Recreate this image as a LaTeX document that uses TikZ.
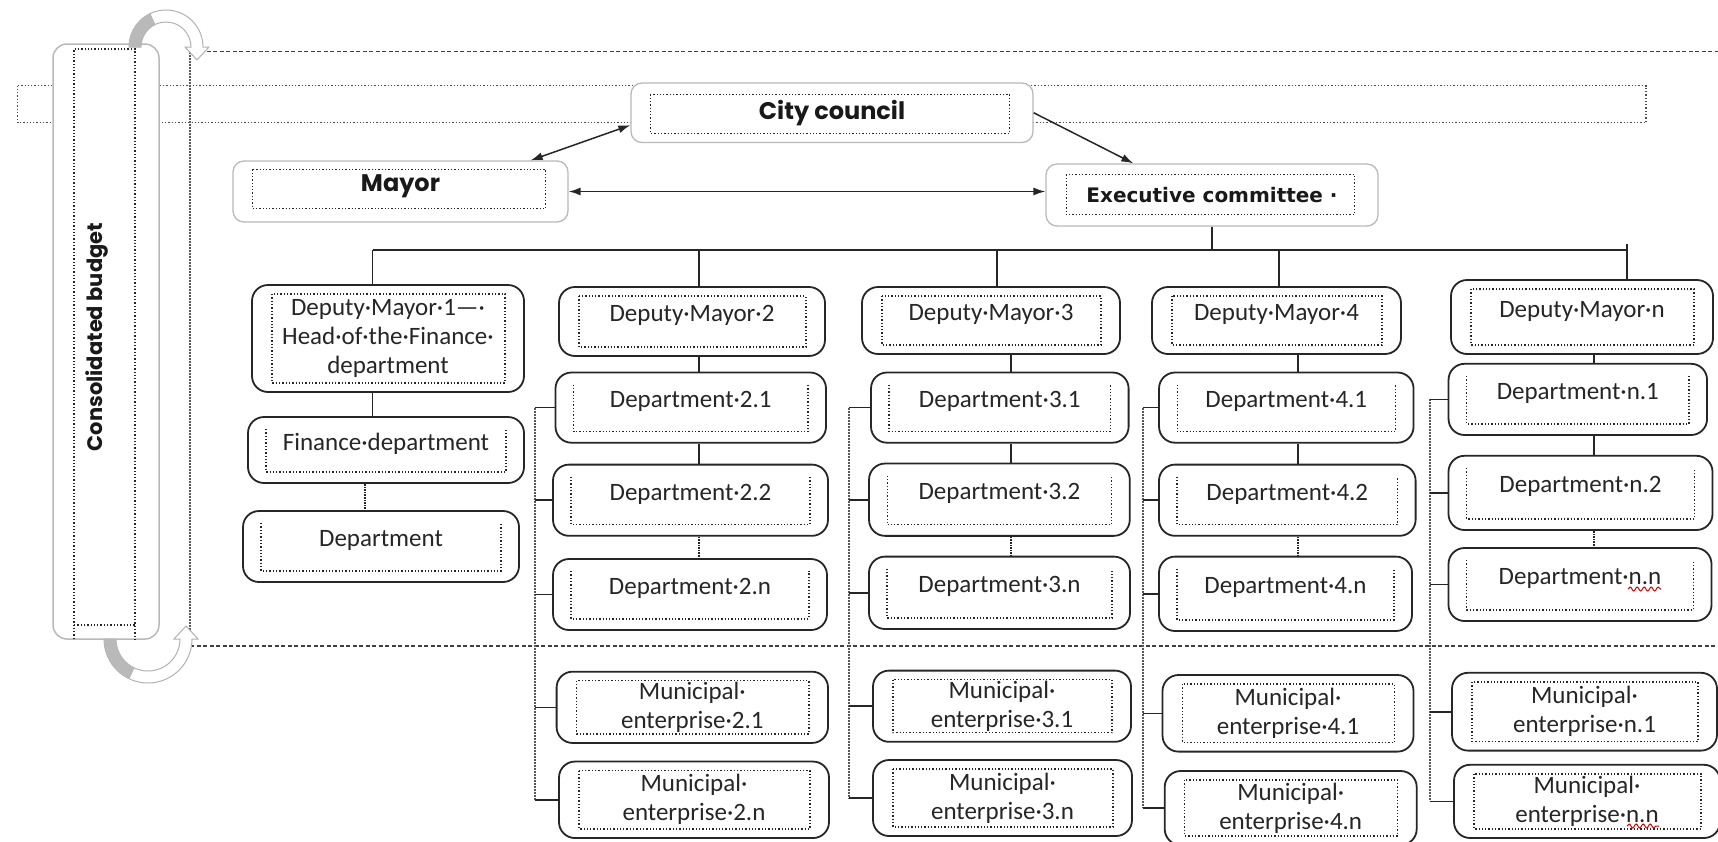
\documentclass[tikz,border=0pt]{standalone}
\usepackage{fontspec}
\setmainfont{Carlito}
\newfontfamily\gothic{Poppins}
\newfontfamily\dvs{DejaVu Sans}
\usetikzlibrary{arrows.meta,calc,decorations.pathmorphing}
\tikzset{
  topbox/.style={draw=gray!55,line width=1.3pt,rounded corners=11pt,fill=white,inner sep=0pt,text=black!90},
  orgbox/.style={draw=black!85,line width=1.8pt,rounded corners=16pt,fill=white,inner sep=0pt,align=center,
     font=\fontsize{25}{29}\selectfont,text=black!85},
  up/.style={text height=17pt,text depth=17pt},
  innerln/.style={draw=black!85,line width=1.3pt,dotted},
  conn/.style={draw=black!85,line width=1.6pt},
  dconn/.style={draw=black!85,line width=1.6pt,densely dotted},
  spine/.style={draw=black!65,line width=2pt,densely dotted},
  frame/.style={draw=black!75,line width=1.3pt,dash pattern=on 4pt off 2.5pt},
  arr/.style={draw=black!85,line width=1.5pt,-{Latex[length=12pt,width=8pt]}},
  darr/.style={draw=black!85,line width=1.5pt,{Latex[length=12pt,width=8pt]}-{Latex[length=12pt,width=8pt]}},
  squig/.style={draw=red!85!black,line width=1pt,decorate,decoration={snake,amplitude=2pt,segment length=7pt}},
}
\newcommand\ob[7][]{\node[orgbox,#1,minimum width=#5pt,minimum height=#6pt] (#2) at (#3,#4) {#7};}
\newcommand\inrect[1]{\draw[innerln] ($(#1.north west)+(21,10)$) rectangle ($(#1.south east)+(-20,-10)$);}
\newcommand\inU[1]{\draw[innerln] ($(#1.north west)+(19,13)$) |- ($(#1.south east)+(-19,-12)$) -- ($(#1.north east)+(-19,13)$);}
\begin{document}
\begin{tikzpicture}[x=1pt,y=-1pt]
\useasboundingbox (0,0) rectangle (1718,841);
% dotted band
\draw[draw=black!70,line width=1.3pt,dotted] (17.5,85.5) rectangle (1646,122.7);
% dashed frame
\draw[frame] (1725,51.5) -- (190,51.5);
\draw[spine,line width=1.6pt] (190,51.5) -- (190,646);
\draw[frame] (190,646) -- (1725,646);
% consolidated budget bar
\node[draw=gray!55,line width=1.5pt,rounded corners=14pt,fill=white,minimum width=106pt,minimum height=595pt,inner sep=0pt] (bar) at (106,341.5) {};
\draw[innerln] (74,639) -- (74,49) -- (135,49) -- (135,639) (74,625) -- (135,625);
\node[rotate=90,font=\gothic\bfseries\fontsize{21}{24}\selectfont,text=black!90] (cb) at (97,337) {Consolidated budget};
% curved arrows
\fill[white,draw=gray!60,line width=1pt] (129,47) arc[start angle=180,end angle=360,radius=37] -- (209,47) -- (197,60) -- (185,47) -- (191,47) arc[start angle=360,end angle=180,radius=25] -- cycle;
\fill[gray!55] (129,47) arc[start angle=180,end angle=245,radius=37] -- ($(166,47)+(245:25)$) arc[start angle=245,end angle=180,radius=25] -- cycle;
\fill[white,draw=gray!60,line width=1pt] (104,639) arc[start angle=180,end angle=0,radius=44] -- (198,639) -- (186,626) -- (174,639) -- (180,639) arc[start angle=0,end angle=180,radius=32] -- cycle;
\fill[gray!55] (104,639) arc[start angle=180,end angle=115,radius=44] -- ($(148,639)+(115:32)$) arc[start angle=115,end angle=180,radius=32] -- cycle;
% top boxes
\node[topbox,minimum width=402pt,minimum height=59.5pt,font=\gothic\bfseries\fontsize{24}{28}\selectfont] (cc) at (832,112.75) {City council};
\node[topbox,minimum width=335pt,minimum height=61pt,font=\gothic\bfseries\fontsize{24}{28}\selectfont,up] (mayor) at (400.5,191.5) {Mayor};
\node[topbox,minimum width=332pt,minimum height=62pt,font=\dvs\bfseries\fontsize{20}{24}\selectfont] (exec) at (1212,195) {Executive committee ·};
\draw[innerln] ($(cc.north west)+(20,12)$) rectangle ($(cc.south east)+(-24,-10)$);
\draw[innerln] ($(mayor.north west)+(20,9)$) rectangle ($(mayor.south east)+(-23,-14)$);
\draw[innerln] ($(exec.north west)+(21,11)$) rectangle ($(exec.south east)+(-24,-12)$);
\draw[darr] ($(mayor.north east)+(-38,0)$) -- ($(cc.south west)+(0,-18)$);
\draw[arr] (cc.east) -- ($(exec.north west)+(88,0)$);
\draw[darr] (mayor.east) -- (mayor.east -| exec.west);
% deputy mayors
\ob{dm1}{388}{338.5}{272}{107}{Deputy·Mayor·1—·\\Head·of·the·Finance·\\department}
\ob[up]{dm2}{692}{321.5}{266}{69}{Deputy·Mayor·2}
\ob[up]{dm3}{991}{320.5}{258}{67}{Deputy·Mayor·3}
\ob[up]{dm4}{1276.5}{320.5}{249}{67}{Deputy·Mayor·4}
\ob[up]{dmn}{1582}{317}{262}{74}{Deputy·Mayor·n}
\foreach \bx in {dm1,dm2,dm3,dm4,dmn} {\inrect{\bx}}
% bus
\coordinate (bl) at (372.5,250);
\coordinate (br) at (1627,250);
\draw[conn] (exec.south) -- (exec.south |- bl);
\draw[conn] (bl) -- (br);
\foreach \n/\x in {dm1/372.5,dm2/699,dm3/997,dm4/1279,dmn/1627} {
  \coordinate (t\n) at (\x,250);
  \draw[conn] (t\n) -- (t\n |- \n.north);
}
\draw[conn] (1627,244) -- (br);
% left column
\ob[up]{fin}{386}{450}{276}{66}{Finance·department}
\ob[up]{dep}{381}{546.5}{276}{71}{Department}
\inU{fin} \inU{dep}
\coordinate (k1) at (372.5,0);
\coordinate (k1b) at (365,0);
\draw[conn] (dm1.south -| k1) -- (fin.north -| k1);
\draw[dconn] (fin.south -| k1b) -- (dep.north -| k1b);
% column 2
\ob[up]{d21}{690.75}{407.6}{270.5}{70.2}{Department·2.1}
\ob[up]{d22}{690.5}{500.2}{275}{71.2}{Department·2.2}
\ob[up]{d2n}{690}{594.5}{274}{71}{Department·2.n}
\ob{m21}{692.3}{707.3}{271.4}{71.3}{Municipal·\\enterprise·2.1}
\ob{m2n}{694}{799.8}{270}{76.5}{Municipal·\\enterprise·2.n}
% column 3
\ob[up]{d31}{999.8}{407.6}{257.6}{70.2}{Department·3.1}
\ob[up]{d32}{999.4}{499.7}{260.7}{72.3}{Department·3.2}
\ob[up]{d3n}{999.5}{592.8}{261}{72.4}{Department·3.n}
\ob{m31}{1002}{706.2}{258}{71.2}{Municipal·\\enterprise·3.1}
\ob{m3n}{1002.5}{798}{259}{76}{Municipal·\\enterprise·3.n}
% column 4
\ob[up]{d41}{1286.3}{407.6}{254.5}{70.2}{Department·4.1}
\ob[up]{d42}{1287.3}{500.2}{256.6}{71.2}{Department·4.2}
\ob[up]{d4n}{1285.5}{593.8}{253}{74.4}{Department·4.n}
\ob{m41}{1288}{713.3}{251}{76.6}{Municipal·\\enterprise·4.1}
\ob{m4n}{1290.7}{808}{252}{74}{Municipal·\\enterprise·4.n}
% column n
\ob[up]{dn1}{1577.8}{399.4}{258.5}{71.2}{Department·n.1}
\ob[up]{dn2}{1580.5}{492.9}{264}{74.2}{Department·n.2}
\ob[up]{dnn}{1580}{584.5}{263}{73}{Department·n.n}
\ob{mn1}{1584.5}{711.7}{265}{77.8}{Municipal·\\enterprise·n.1}
\ob{mnn}{1587}{801.4}{266}{73.2}{Municipal·\\enterprise·n.n}
\foreach \bx in {d21,d22,d2n,d31,d32,d3n,d41,d42,d4n,dn1,dn2,dnn} {\inU{\bx}}
\foreach \bx in {m21,m2n,m31,m3n,m41,m4n,mn1,mnn} {\inrect{\bx}}
% vertical connectors in columns
\foreach \c/\x/\a/\b/\e in {2/699/d21/d22/d2n,3/1011/d31/d32/d3n,4/1298/d41/d42/d4n,n/1594/dn1/dn2/dnn} {
  \coordinate (k\c) at (\x,0);
  \draw[conn] (dm\c.south -| k\c) -- (\a.north -| k\c);
  \draw[conn] (\a.south -| k\c) -- (\b.north -| k\c);
  \draw[dconn] (\b.south -| k\c) -- (\e.north -| k\c);
}
% spines with ticks
\foreach \c/\x in {2/535,3/849,4/1143,n/1430} {
  \coordinate (s\c) at (\x,0);
  \draw[spine] (s\c |- d\c1.west) -- (s\c |- m\c n.west);
  \foreach \bx in {d\c1,d\c2,d\c n,m\c1,m\c n} {\draw[conn] (s\c |- \bx.west) -- (\bx.west);}
}
% spell-check marks
\draw[squig] (1628,589) -- (1661,589);
\draw[squig] (1627,826) -- (1659,826);
\end{tikzpicture}
\end{document}
